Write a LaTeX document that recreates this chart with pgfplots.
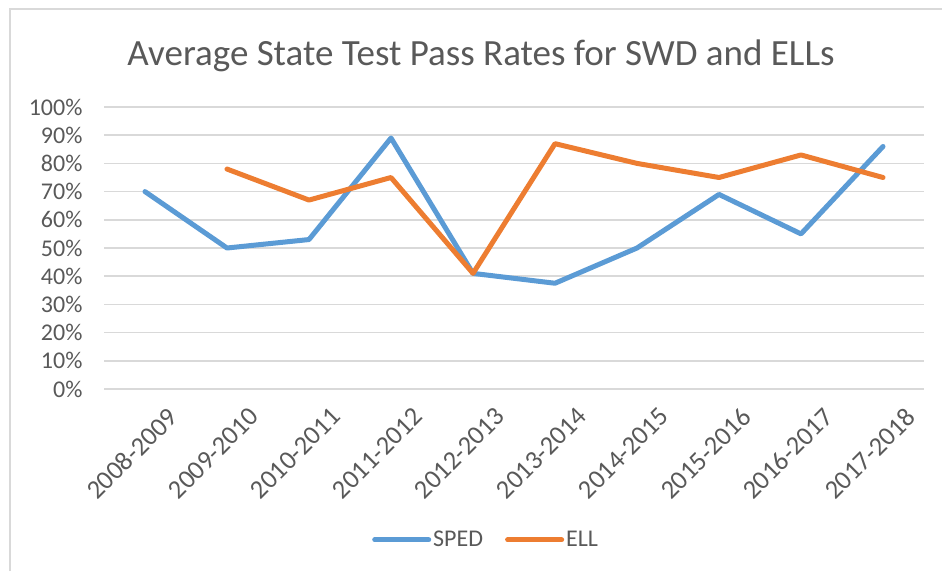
\documentclass[border=0pt]{standalone}
\usepackage{pgfplots}
\pgfplotsset{compat=1.18}
\usepackage{fontspec}
\setmainfont{Carlito}
\definecolor{spedblue}{HTML}{5B9BD5}
\definecolor{ellorange}{HTML}{ED7D31}
\definecolor{gridgray}{HTML}{D9D9D9}
\definecolor{txtgray}{HTML}{595959}
\begin{document}
\begin{tikzpicture}[x=1pt,y=1pt]
\useasboundingbox (0,0) rectangle (942,571);
\draw[gridgray, line width=2pt] (10,0) -- (10,562) -- (942,562);
\node[txtgray, font=\fontsize{37}{42}\selectfont] at (481,515) {Average State Test Pass Rates for SWD and ELLs};
\begin{axis}[at={(104pt,182pt)}, anchor=south west, scale only axis,
  width=820pt, height=282pt,
  xmin=-0.5, xmax=9.5, ymin=0, ymax=100,
  ytick={0,10,...,100},
  yticklabel={\pgfmathprintnumber{\tick}\%},
  xtick={0,...,9},
  xticklabels={2008-2009,2009-2010,2010-2011,2011-2012,2012-2013,2013-2014,2014-2015,2015-2016,2016-2017,2017-2018},
  /pgf/number format/assume math mode=true,
  axis line style={draw=none},
  major tick length=0pt,
  ymajorgrids,
  grid style={gridgray, line width=1.6pt},
  tick label style={txtgray, font=\fontsize{24}{28}\selectfont},
  yticklabel style={xshift=-18pt},
  xticklabel style={font=\fontsize{26.5}{30}\selectfont, rotate=45, anchor=north east, inner sep=0pt, xshift=3pt, yshift=-27pt},
  legend style={at={(0.466,-0.535)}, anchor=center, draw=none, fill=none,
    legend columns=2, font=\fontsize{24}{28}\selectfont, text=txtgray,
    /tikz/every even column/.append style={column sep=20pt}},
  legend image code/.code={\draw[#1, line cap=round] (0pt,0pt) -- (54pt,0pt);},
  every axis plot/.append style={line width=5pt, line join=round, line cap=round},
]
\addplot[spedblue] coordinates {(0,70) (1,50) (2,53) (3,89) (4,41) (5,37.5) (6,50) (7,69) (8,55) (9,86)};
\addlegendentry{SPED}
\addplot[ellorange] coordinates {(1,78) (2,67) (3,75) (4,41) (5,87) (6,80) (7,75) (8,83) (9,75)};
\addlegendentry{ELL}
\end{axis}
\end{tikzpicture}
\end{document}
